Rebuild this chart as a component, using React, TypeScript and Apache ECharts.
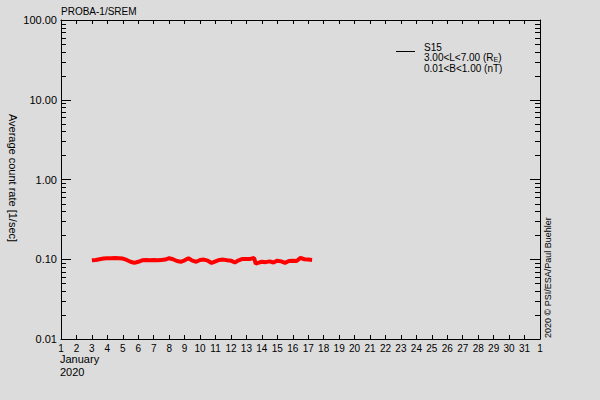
import * as echarts from 'echarts';
import React, { useEffect, useRef } from 'react';

// day of month (January 2020) and average count rate [1/sec]
const days = [
  3.0, 3.25, 3.5, 3.75, 4.0, 4.25, 4.5, 4.75, 5.0, 5.25, 5.5, 5.75, 6.0, 6.25, 6.5, 6.75,
  7.0, 7.25, 7.5, 7.75, 8.0, 8.25, 8.5, 8.75, 9.0, 9.25, 9.5, 9.75, 10.0, 10.25, 10.5, 10.75,
  11.0, 11.25, 11.5, 11.75, 12.0, 12.25, 12.5, 12.75, 13.0, 13.25, 13.5, 13.6, 13.75, 14.0,
  14.25, 14.5, 14.75, 15.0, 15.25, 15.5, 15.75, 16.0, 16.25, 16.5, 16.75, 17.0, 17.25,
];
const rates = [
  0.097, 0.098, 0.1, 0.102, 0.103, 0.103, 0.104, 0.103, 0.102, 0.098, 0.093, 0.09, 0.093, 0.097, 0.098, 0.097,
  0.098, 0.097, 0.098, 0.099, 0.103, 0.1, 0.095, 0.093, 0.097, 0.103, 0.096, 0.093, 0.098, 0.099, 0.096, 0.09,
  0.094, 0.098, 0.099, 0.097, 0.096, 0.091, 0.097, 0.101, 0.101, 0.101, 0.104, 0.088, 0.09, 0.093,
  0.092, 0.094, 0.091, 0.096, 0.094, 0.09, 0.095, 0.096, 0.095, 0.104, 0.1, 0.099, 0.098,
];

const yMajor = [0.01, 0.1, 1, 10, 100];
const minorSteps = [2, 3, 4, 5, 6, 7, 8, 9];
const legendLines = ['S15', '3.00<L<7.00 (R{sub|E})', '0.01<B<1.00 (nT)'];

const FONT = '"Liberation Sans", Arial, sans-serif';

const App: React.FC = () => {
  const chartRef = useRef<HTMLDivElement>(null);

  useEffect(() => {
    document.body.style.margin = '0';
    const myChart = echarts.init(chartRef.current!, undefined, { renderer: 'svg' });

    const yMinor: number[][] = [];
    yMajor.slice(0, -1).forEach((d) => minorSteps.forEach((s) => yMinor.push([1, d * s])));

    const tickStyle = { stroke: '#000', lineWidth: 1 };
    const axisCommon = {
      axisLine: { lineStyle: { color: '#000', width: 1 } },
      splitLine: { show: false },
    };

    const option = {
      animation: false,
      backgroundColor: '#dcdcdc',
      textStyle: { fontFamily: FONT },
      grid: { left: 61, right: 60, top: 20, bottom: 61 },
      xAxis: [
        {
          ...axisCommon,
          type: 'value',
          min: 1,
          max: 32,
          interval: 1,
          axisTick: { inside: true, length: 4, lineStyle: { color: '#000' } },
          axisLabel: {
            color: '#000',
            fontSize: 10,
            fontFamily: FONT,
            margin: 4,
            showMaxLabel: true,
            formatter: (v: number) => String(v > 31 ? v - 31 : v),
          },
        },
        {
          ...axisCommon,
          type: 'value',
          position: 'top',
          min: 1,
          max: 32,
          interval: 1,
          axisTick: { inside: true, length: 4, lineStyle: { color: '#000' } },
          axisLabel: { show: false },
        },
      ],
      yAxis: [
        {
          ...axisCommon,
          type: 'log',
          logBase: 10,
          min: 0.01,
          max: 100,
          axisTick: { inside: true, length: 10, lineStyle: { color: '#000' } },
          axisLabel: {
            color: '#000',
            fontSize: 11,
            fontFamily: FONT,
            margin: 4,
            formatter: (v: number) => v.toFixed(2),
          },
        },
        {
          ...axisCommon,
          type: 'log',
          logBase: 10,
          min: 0.01,
          max: 100,
          position: 'right',
          axisTick: { inside: true, length: 10, lineStyle: { color: '#000' } },
          axisLabel: { show: false },
        },
      ],
      series: [
        {
          // minor ticks on both y axes, pointing inward
          type: 'custom',
          xAxisIndex: 0,
          yAxisIndex: 0,
          silent: true,
          clip: false,
          encode: { x: 0, y: 1 },
          data: yMinor,
          renderItem: (_params: any, api: any) => {
            const v = api.value(1);
            const pL = api.coord([1, v]);
            const pR = api.coord([32, v]);
            const y = Math.round(pL[1]) + 0.5;
            return {
              type: 'group',
              children: [
                { type: 'line', shape: { x1: pL[0], y1: y, x2: pL[0] + 5, y2: y }, style: tickStyle },
                { type: 'line', shape: { x1: pR[0], y1: y, x2: pR[0] - 5, y2: y }, style: tickStyle },
              ],
            };
          },
        },
        {
          type: 'line',
          name: 'S15',
          xAxisIndex: 0,
          yAxisIndex: 0,
          showSymbol: false,
          data: days.map((d, i) => [d, rates[i]]),
          lineStyle: { color: '#ff0000', width: 4 },
          itemStyle: { color: '#ff0000' },
        },
      ],
      graphic: [
        {
          type: 'text',
          x: 61,
          y: 11,
          style: { text: 'PROBA-1/SREM', fill: '#000', font: `10px ${FONT}`, textAlign: 'left', textVerticalAlign: 'middle' },
        },
        {
          type: 'text',
          x: 13,
          y: 178,
          rotation: -Math.PI / 2,
          style: { text: 'Average count rate [1/sec]', fill: '#000', font: `11px ${FONT}`, textAlign: 'center', textVerticalAlign: 'middle' },
        },
        {
          type: 'text',
          x: 548,
          y: 338,
          rotation: Math.PI / 2,
          style: { text: '2020 © PSI/ESA/Paul Buehler', fill: '#000', font: `9px ${FONT}`, textAlign: 'left', textVerticalAlign: 'middle' },
        },
        {
          type: 'text',
          x: 60,
          y: 359,
          style: { text: 'January', fill: '#000', font: `11px ${FONT}`, textAlign: 'left', textVerticalAlign: 'middle' },
        },
        {
          type: 'text',
          x: 60,
          y: 372,
          style: { text: '2020', fill: '#000', font: `11px ${FONT}`, textAlign: 'left', textVerticalAlign: 'middle' },
        },
        {
          type: 'line',
          shape: { x1: 396, y1: 51.5, x2: 415, y2: 51.5 },
          style: { stroke: '#000', lineWidth: 1 },
        },
        {
          type: 'text',
          x: 424,
          y: 42,
          style: {
            text: legendLines.join('\n'),
            fill: '#000',
            font: `10px ${FONT}`,
            lineHeight: 10.5,
            textAlign: 'left',
            textVerticalAlign: 'top',
            rich: { sub: { fontSize: 7, fontFamily: FONT, fill: '#000', lineHeight: 10.5, verticalAlign: 'bottom' } },
          },
        },
      ],
    };

    myChart.setOption(option as any);

    return () => {
      myChart.dispose();
    };
  }, []);

  return <div ref={chartRef} style={{ width: '600px', height: '400px' }} />;
};

export default App;
